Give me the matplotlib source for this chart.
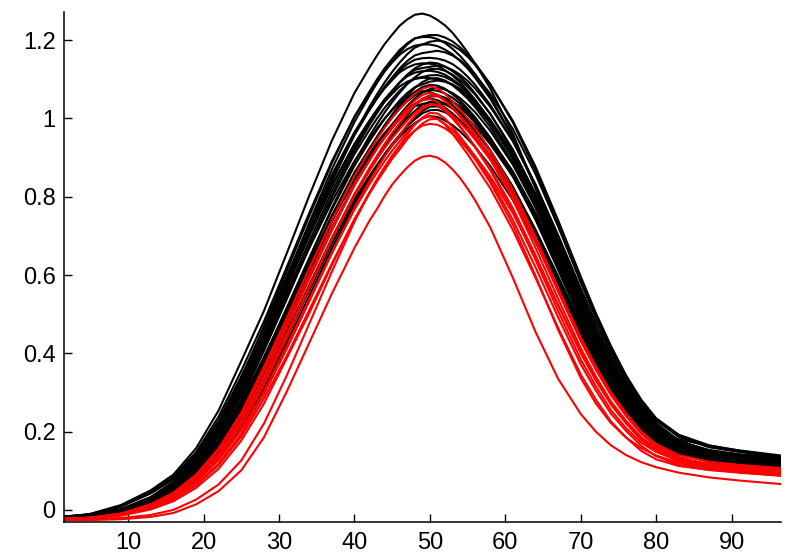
import matplotlib
matplotlib.use("Agg")
import matplotlib.pyplot as plt

# sample positions along x (shared by all curves)
x = [1.5, 5, 9, 13, 16, 19, 22, 25, 28, 31, 34, 37, 40, 42, 43, 44, 45, 46, 47, 48,
     49, 50, 51, 52, 53, 54, 55, 56, 58, 61, 64, 67, 70, 72, 74, 76, 78, 80, 83, 87, 91, 96.5]

# black curves
black_01 = [-0.020, -0.010, 0.012, 0.050, 0.090, 0.157, 0.254, 0.380, 0.508, 0.654, 0.802, 0.943, 1.065, 1.130, 1.161, 1.190, 1.214, 1.237, 1.253, 1.265, 1.268, 1.263, 1.252, 1.238, 1.219, 1.195, 1.169, 1.140, 1.077, 0.961, 0.822, 0.670, 0.520, 0.433, 0.355, 0.292, 0.241, 0.205, 0.180, 0.164, 0.152, 0.139]
black_02 = [-0.020, -0.015, -0.001, 0.029, 0.066, 0.123, 0.205, 0.316, 0.451, 0.591, 0.733, 0.870, 0.991, 1.059, 1.091, 1.120, 1.146, 1.169, 1.189, 1.204, 1.210, 1.213, 1.213, 1.207, 1.197, 1.182, 1.163, 1.141, 1.088, 0.990, 0.868, 0.728, 0.582, 0.490, 0.407, 0.335, 0.274, 0.229, 0.188, 0.162, 0.150, 0.137]
black_03 = [-0.019, -0.014, 0.001, 0.033, 0.072, 0.132, 0.218, 0.333, 0.469, 0.609, 0.750, 0.886, 1.004, 1.069, 1.100, 1.128, 1.152, 1.175, 1.192, 1.205, 1.208, 1.208, 1.203, 1.193, 1.178, 1.160, 1.138, 1.113, 1.056, 0.952, 0.824, 0.682, 0.538, 0.450, 0.372, 0.305, 0.251, 0.212, 0.175, 0.153, 0.142, 0.134]
black_04 = [-0.020, -0.016, -0.003, 0.024, 0.059, 0.111, 0.189, 0.294, 0.425, 0.563, 0.703, 0.839, 0.961, 1.030, 1.062, 1.092, 1.119, 1.143, 1.164, 1.181, 1.189, 1.196, 1.199, 1.196, 1.187, 1.175, 1.158, 1.137, 1.087, 0.994, 0.877, 0.740, 0.596, 0.503, 0.419, 0.344, 0.282, 0.234, 0.192, 0.165, 0.151, 0.137]
black_05 = [-0.018, -0.012, 0.009, 0.046, 0.085, 0.147, 0.238, 0.355, 0.481, 0.619, 0.758, 0.890, 1.004, 1.066, 1.095, 1.121, 1.143, 1.163, 1.177, 1.186, 1.189, 1.189, 1.185, 1.176, 1.164, 1.147, 1.128, 1.104, 1.051, 0.952, 0.829, 0.691, 0.549, 0.461, 0.382, 0.314, 0.257, 0.216, 0.176, 0.152, 0.141, 0.132]
black_06 = [-0.019, -0.014, -0.001, 0.028, 0.064, 0.119, 0.199, 0.306, 0.436, 0.571, 0.707, 0.840, 0.957, 1.022, 1.052, 1.081, 1.105, 1.128, 1.147, 1.161, 1.167, 1.170, 1.173, 1.169, 1.161, 1.149, 1.132, 1.112, 1.063, 0.973, 0.858, 0.724, 0.583, 0.493, 0.411, 0.337, 0.276, 0.229, 0.186, 0.160, 0.148, 0.135]
black_07 = [-0.018, -0.013, 0.001, 0.032, 0.070, 0.127, 0.210, 0.320, 0.450, 0.584, 0.718, 0.848, 0.961, 1.023, 1.052, 1.079, 1.102, 1.123, 1.139, 1.150, 1.154, 1.155, 1.153, 1.148, 1.139, 1.125, 1.107, 1.086, 1.035, 0.943, 0.827, 0.694, 0.555, 0.467, 0.388, 0.319, 0.261, 0.218, 0.176, 0.150, 0.138, 0.129]
black_08 = [-0.019, -0.015, -0.003, 0.023, 0.056, 0.106, 0.180, 0.281, 0.406, 0.537, 0.671, 0.801, 0.918, 0.984, 1.014, 1.043, 1.068, 1.092, 1.112, 1.128, 1.138, 1.143, 1.141, 1.133, 1.121, 1.106, 1.087, 1.064, 1.012, 0.917, 0.799, 0.666, 0.529, 0.444, 0.368, 0.302, 0.248, 0.208, 0.170, 0.146, 0.136, 0.127]
black_09 = [-0.018, -0.012, 0.008, 0.043, 0.080, 0.141, 0.228, 0.341, 0.464, 0.596, 0.729, 0.856, 0.965, 1.024, 1.052, 1.077, 1.098, 1.118, 1.130, 1.138, 1.141, 1.140, 1.135, 1.123, 1.110, 1.092, 1.071, 1.048, 0.994, 0.896, 0.776, 0.641, 0.505, 0.423, 0.349, 0.287, 0.236, 0.199, 0.164, 0.144, 0.134, 0.126]
black_10 = [-0.018, -0.014, -0.001, 0.027, 0.062, 0.115, 0.193, 0.296, 0.422, 0.553, 0.685, 0.813, 0.926, 0.989, 1.019, 1.046, 1.070, 1.092, 1.110, 1.124, 1.129, 1.132, 1.135, 1.132, 1.124, 1.112, 1.096, 1.077, 1.030, 0.942, 0.832, 0.702, 0.566, 0.478, 0.398, 0.327, 0.268, 0.222, 0.177, 0.149, 0.136, 0.127]
black_11 = [-0.019, -0.016, -0.005, 0.019, 0.049, 0.095, 0.164, 0.259, 0.380, 0.509, 0.641, 0.771, 0.888, 0.955, 0.986, 1.015, 1.042, 1.066, 1.088, 1.105, 1.119, 1.126, 1.127, 1.122, 1.112, 1.098, 1.081, 1.061, 1.012, 0.921, 0.808, 0.678, 0.543, 0.457, 0.380, 0.312, 0.256, 0.213, 0.172, 0.146, 0.135, 0.126]
black_12 = [-0.018, -0.013, 0.001, 0.031, 0.068, 0.124, 0.205, 0.312, 0.438, 0.568, 0.699, 0.825, 0.935, 0.995, 1.023, 1.049, 1.071, 1.092, 1.108, 1.117, 1.121, 1.122, 1.119, 1.112, 1.100, 1.085, 1.066, 1.044, 0.993, 0.900, 0.784, 0.653, 0.519, 0.436, 0.361, 0.296, 0.243, 0.204, 0.166, 0.144, 0.133, 0.125]
black_13 = [-0.018, -0.013, -0.001, 0.027, 0.061, 0.113, 0.189, 0.291, 0.415, 0.543, 0.673, 0.798, 0.909, 0.971, 1.000, 1.027, 1.050, 1.071, 1.089, 1.102, 1.106, 1.110, 1.111, 1.106, 1.096, 1.083, 1.066, 1.046, 0.997, 0.908, 0.797, 0.668, 0.535, 0.451, 0.374, 0.308, 0.252, 0.210, 0.169, 0.144, 0.133, 0.124]
black_14 = [-0.020, -0.016, -0.005, 0.015, 0.042, 0.085, 0.149, 0.238, 0.353, 0.479, 0.608, 0.736, 0.854, 0.921, 0.953, 0.983, 1.010, 1.035, 1.058, 1.078, 1.093, 1.102, 1.103, 1.097, 1.085, 1.069, 1.051, 1.029, 0.979, 0.887, 0.773, 0.644, 0.512, 0.430, 0.356, 0.292, 0.240, 0.201, 0.164, 0.142, 0.131, 0.123]
black_15 = [-0.017, -0.011, 0.008, 0.042, 0.078, 0.137, 0.220, 0.329, 0.451, 0.579, 0.707, 0.830, 0.934, 0.992, 1.018, 1.043, 1.063, 1.082, 1.094, 1.101, 1.104, 1.103, 1.100, 1.095, 1.086, 1.072, 1.056, 1.036, 0.988, 0.899, 0.789, 0.662, 0.530, 0.446, 0.371, 0.305, 0.250, 0.208, 0.168, 0.143, 0.132, 0.123]
black_16 = [-0.018, -0.014, -0.003, 0.022, 0.054, 0.102, 0.173, 0.269, 0.389, 0.515, 0.643, 0.767, 0.879, 0.942, 0.971, 0.999, 1.023, 1.046, 1.065, 1.080, 1.087, 1.094, 1.097, 1.094, 1.087, 1.076, 1.060, 1.042, 0.996, 0.912, 0.805, 0.680, 0.549, 0.463, 0.386, 0.317, 0.260, 0.215, 0.171, 0.144, 0.132, 0.123]
black_17 = [-0.019, -0.015, -0.005, 0.018, 0.047, 0.091, 0.158, 0.250, 0.367, 0.492, 0.619, 0.744, 0.858, 0.922, 0.953, 0.981, 1.007, 1.030, 1.051, 1.068, 1.080, 1.086, 1.084, 1.076, 1.062, 1.045, 1.025, 1.003, 0.951, 0.857, 0.742, 0.613, 0.483, 0.404, 0.334, 0.274, 0.225, 0.190, 0.157, 0.137, 0.128, 0.121]
black_18 = [-0.019, -0.016, -0.005, 0.015, 0.041, 0.083, 0.145, 0.232, 0.343, 0.466, 0.592, 0.717, 0.832, 0.898, 0.929, 0.958, 0.985, 1.009, 1.032, 1.051, 1.066, 1.075, 1.079, 1.074, 1.065, 1.052, 1.035, 1.016, 0.969, 0.882, 0.774, 0.650, 0.520, 0.438, 0.364, 0.299, 0.245, 0.204, 0.165, 0.140, 0.129, 0.121]
black_19 = [-0.018, -0.014, -0.003, 0.022, 0.053, 0.100, 0.169, 0.264, 0.381, 0.504, 0.630, 0.752, 0.862, 0.923, 0.952, 0.979, 1.003, 1.025, 1.044, 1.059, 1.069, 1.073, 1.071, 1.064, 1.053, 1.038, 1.020, 0.999, 0.950, 0.861, 0.750, 0.625, 0.497, 0.417, 0.345, 0.284, 0.233, 0.195, 0.159, 0.137, 0.127, 0.119]
black_20 = [-0.017, -0.012, 0.001, 0.030, 0.066, 0.119, 0.196, 0.298, 0.419, 0.543, 0.668, 0.787, 0.891, 0.949, 0.975, 1.000, 1.021, 1.041, 1.056, 1.066, 1.070, 1.068, 1.060, 1.049, 1.034, 1.016, 0.995, 0.971, 0.919, 0.823, 0.707, 0.579, 0.452, 0.377, 0.310, 0.254, 0.210, 0.178, 0.148, 0.128, 0.118, 0.111]
black_21 = [-0.019, -0.016, -0.007, 0.011, 0.036, 0.074, 0.132, 0.213, 0.317, 0.438, 0.562, 0.686, 0.802, 0.869, 0.901, 0.930, 0.958, 0.983, 1.008, 1.032, 1.050, 1.059, 1.060, 1.053, 1.042, 1.027, 1.010, 0.989, 0.941, 0.852, 0.743, 0.619, 0.492, 0.413, 0.342, 0.281, 0.231, 0.193, 0.158, 0.136, 0.126, 0.118]
black_22 = [-0.018, -0.015, -0.005, 0.018, 0.045, 0.088, 0.153, 0.242, 0.355, 0.476, 0.600, 0.721, 0.832, 0.894, 0.924, 0.951, 0.976, 0.999, 1.020, 1.036, 1.049, 1.056, 1.057, 1.052, 1.043, 1.031, 1.015, 0.995, 0.949, 0.865, 0.759, 0.637, 0.510, 0.430, 0.357, 0.293, 0.240, 0.200, 0.161, 0.137, 0.126, 0.118]
black_23 = [-0.018, -0.014, -0.003, 0.022, 0.052, 0.098, 0.166, 0.258, 0.373, 0.494, 0.617, 0.737, 0.844, 0.905, 0.933, 0.959, 0.983, 1.004, 1.023, 1.037, 1.049, 1.051, 1.047, 1.038, 1.025, 1.008, 0.989, 0.967, 0.918, 0.826, 0.715, 0.591, 0.466, 0.390, 0.321, 0.264, 0.217, 0.183, 0.152, 0.133, 0.124, 0.117]
black_24 = [-0.019, -0.016, -0.005, 0.015, 0.040, 0.081, 0.141, 0.225, 0.332, 0.451, 0.573, 0.694, 0.806, 0.870, 0.900, 0.929, 0.955, 0.978, 1.001, 1.019, 1.035, 1.043, 1.040, 1.028, 1.013, 0.995, 0.974, 0.951, 0.899, 0.805, 0.691, 0.566, 0.442, 0.368, 0.303, 0.249, 0.205, 0.174, 0.145, 0.125, 0.116, 0.109]
black_25 = [-0.017, -0.013, -0.001, 0.025, 0.058, 0.107, 0.178, 0.274, 0.390, 0.510, 0.631, 0.749, 0.853, 0.911, 0.938, 0.963, 0.984, 1.005, 1.021, 1.031, 1.037, 1.040, 1.041, 1.036, 1.028, 1.015, 0.999, 0.980, 0.935, 0.852, 0.748, 0.628, 0.503, 0.423, 0.352, 0.289, 0.237, 0.197, 0.159, 0.135, 0.125, 0.116]
black_26 = [-0.018, -0.015, -0.007, 0.011, 0.036, 0.072, 0.129, 0.207, 0.308, 0.425, 0.546, 0.667, 0.780, 0.846, 0.877, 0.906, 0.933, 0.957, 0.982, 1.002, 1.019, 1.030, 1.031, 1.022, 1.009, 0.993, 0.974, 0.952, 0.903, 0.813, 0.704, 0.581, 0.458, 0.383, 0.316, 0.260, 0.214, 0.180, 0.148, 0.126, 0.116, 0.109]
black_27 = [-0.018, -0.015, -0.005, 0.014, 0.039, 0.079, 0.138, 0.220, 0.324, 0.441, 0.560, 0.679, 0.789, 0.852, 0.881, 0.909, 0.935, 0.958, 0.980, 0.998, 1.013, 1.021, 1.022, 1.016, 1.005, 0.991, 0.974, 0.954, 0.907, 0.822, 0.716, 0.597, 0.474, 0.398, 0.330, 0.271, 0.222, 0.186, 0.152, 0.131, 0.122, 0.114]
black_28 = [-0.017, -0.014, -0.005, 0.017, 0.043, 0.084, 0.145, 0.230, 0.338, 0.454, 0.571, 0.687, 0.793, 0.853, 0.881, 0.907, 0.931, 0.953, 0.972, 0.988, 1.000, 1.006, 1.004, 0.995, 0.983, 0.967, 0.948, 0.927, 0.879, 0.792, 0.685, 0.566, 0.446, 0.373, 0.307, 0.253, 0.208, 0.175, 0.144, 0.122, 0.113, 0.107]

# red curves
red_01 = [-0.024, -0.020, -0.010, 0.014, 0.044, 0.090, 0.157, 0.248, 0.365, 0.489, 0.616, 0.740, 0.853, 0.918, 0.948, 0.976, 1.002, 1.025, 1.046, 1.063, 1.076, 1.082, 1.077, 1.063, 1.044, 1.023, 1.000, 0.975, 0.919, 0.818, 0.698, 0.567, 0.439, 0.364, 0.298, 0.244, 0.200, 0.168, 0.140, 0.123, 0.115, 0.107]
red_02 = [-0.024, -0.021, -0.010, 0.011, 0.038, 0.082, 0.144, 0.231, 0.341, 0.464, 0.589, 0.713, 0.828, 0.893, 0.924, 0.953, 0.980, 1.004, 1.027, 1.046, 1.060, 1.066, 1.061, 1.046, 1.027, 1.004, 0.980, 0.953, 0.896, 0.793, 0.670, 0.539, 0.413, 0.341, 0.277, 0.228, 0.186, 0.157, 0.132, 0.117, 0.110, 0.102]
red_03 = [-0.024, -0.021, -0.012, 0.007, 0.034, 0.073, 0.133, 0.214, 0.319, 0.440, 0.565, 0.690, 0.806, 0.874, 0.905, 0.935, 0.963, 0.988, 1.013, 1.034, 1.050, 1.058, 1.058, 1.045, 1.028, 1.007, 0.985, 0.960, 0.905, 0.805, 0.687, 0.557, 0.431, 0.358, 0.293, 0.240, 0.195, 0.162, 0.133, 0.115, 0.106, 0.097]
red_04 = [-0.023, -0.020, -0.010, 0.014, 0.042, 0.087, 0.153, 0.242, 0.355, 0.476, 0.600, 0.721, 0.832, 0.894, 0.924, 0.951, 0.976, 0.999, 1.020, 1.036, 1.046, 1.050, 1.042, 1.025, 1.004, 0.980, 0.955, 0.926, 0.868, 0.763, 0.639, 0.508, 0.384, 0.316, 0.255, 0.209, 0.172, 0.148, 0.128, 0.117, 0.111, 0.105]
red_05 = [-0.023, -0.021, -0.013, 0.004, 0.027, 0.064, 0.118, 0.194, 0.295, 0.410, 0.532, 0.655, 0.772, 0.840, 0.872, 0.903, 0.932, 0.957, 0.984, 1.006, 1.024, 1.036, 1.034, 1.019, 1.000, 0.978, 0.954, 0.928, 0.872, 0.771, 0.651, 0.523, 0.400, 0.330, 0.269, 0.221, 0.179, 0.149, 0.124, 0.108, 0.100, 0.092]
red_06 = [-0.023, -0.021, -0.010, 0.010, 0.037, 0.079, 0.140, 0.224, 0.330, 0.448, 0.570, 0.691, 0.802, 0.866, 0.896, 0.924, 0.950, 0.973, 0.995, 1.014, 1.029, 1.037, 1.033, 1.023, 1.008, 0.990, 0.969, 0.946, 0.895, 0.801, 0.688, 0.563, 0.440, 0.366, 0.301, 0.247, 0.200, 0.166, 0.135, 0.115, 0.105, 0.097]
red_07 = [-0.023, -0.021, -0.015, 0.001, 0.022, 0.056, 0.105, 0.177, 0.271, 0.386, 0.502, 0.625, 0.742, 0.811, 0.844, 0.875, 0.905, 0.931, 0.959, 0.984, 1.002, 1.014, 1.013, 1.000, 0.978, 0.954, 0.929, 0.901, 0.845, 0.741, 0.620, 0.492, 0.372, 0.305, 0.246, 0.202, 0.164, 0.137, 0.115, 0.102, 0.095, 0.087]
red_08 = [-0.023, -0.020, -0.012, 0.006, 0.032, 0.070, 0.127, 0.204, 0.302, 0.418, 0.537, 0.656, 0.767, 0.832, 0.862, 0.891, 0.918, 0.942, 0.966, 0.986, 1.000, 1.006, 0.999, 0.985, 0.961, 0.935, 0.909, 0.880, 0.822, 0.715, 0.593, 0.465, 0.346, 0.282, 0.226, 0.185, 0.151, 0.129, 0.112, 0.102, 0.097, 0.090]
red_09 = [-0.023, -0.020, -0.013, 0.004, 0.026, 0.062, 0.114, 0.187, 0.284, 0.392, 0.510, 0.629, 0.742, 0.808, 0.839, 0.868, 0.897, 0.921, 0.947, 0.969, 0.987, 0.998, 0.999, 0.986, 0.970, 0.950, 0.928, 0.904, 0.852, 0.758, 0.645, 0.523, 0.404, 0.335, 0.273, 0.225, 0.183, 0.153, 0.127, 0.111, 0.103, 0.096]
red_10 = [-0.022, -0.022, -0.021, -0.013, 0.000, 0.026, 0.065, 0.126, 0.220, 0.342, 0.475, 0.608, 0.736, 0.811, 0.844, 0.875, 0.904, 0.929, 0.952, 0.969, 0.982, 0.986, 0.984, 0.975, 0.961, 0.943, 0.921, 0.896, 0.837, 0.729, 0.598, 0.460, 0.337, 0.272, 0.222, 0.185, 0.158, 0.139, 0.120, 0.105, 0.096, 0.088]
red_11 = [-0.026, -0.026, -0.024, -0.018, -0.008, 0.014, 0.048, 0.101, 0.185, 0.301, 0.426, 0.552, 0.669, 0.739, 0.769, 0.802, 0.831, 0.854, 0.875, 0.892, 0.902, 0.905, 0.900, 0.888, 0.870, 0.848, 0.821, 0.791, 0.722, 0.593, 0.455, 0.335, 0.245, 0.200, 0.165, 0.140, 0.122, 0.109, 0.095, 0.083, 0.075, 0.066]

x_ticks = [10, 20, 30, 40, 50, 60, 70, 80, 90]
x_tick_labels = ["10", "20", "30", "40", "50", "60", "70", "80", "90"]
y_ticks = [0, 0.2, 0.4, 0.6, 0.8, 1.0, 1.2]
y_tick_labels = ["0", "0.2", "0.4", "0.6", "0.8", "1", "1.2"]

black_curves = [black_01, black_02, black_03, black_04, black_05, black_06, black_07,
                black_08, black_09, black_10, black_11, black_12, black_13, black_14,
                black_15, black_16, black_17, black_18, black_19, black_20, black_21,
                black_22, black_23, black_24, black_25, black_26, black_27, black_28]
red_curves = [red_01, red_02, red_03, red_04, red_05, red_06, red_07, red_08, red_09,
              red_10, red_11]

plt.rcParams['font.family'] = ['Liberation Sans', 'DejaVu Sans']

fig = plt.figure(figsize=(7.86, 5.59), dpi=100)
ax = fig.add_axes([0.0814, 0.0662, 0.9118, 0.9123])

for c in black_curves:
    ax.plot(x, c, color='black', lw=1.5, solid_joinstyle='round')
for c in red_curves:
    ax.plot(x, c, color='#ff0000', lw=1.5, solid_joinstyle='round')

ax.set_xlim(1.5, 96.5)
ax.set_ylim(-0.031, 1.272)
ax.set_xticks(x_ticks)
ax.set_xticklabels(x_tick_labels)
ax.set_yticks(y_ticks)
ax.set_yticklabels(y_tick_labels)

for s in ['top', 'right']:
    ax.spines[s].set_visible(False)
for s in ['left', 'bottom']:
    ax.spines[s].set_linewidth(1.1)

ax.tick_params(axis='both', direction='in', length=5.5, width=1.0, labelsize=17)
ax.tick_params(axis='x', pad=7)
ax.tick_params(axis='y', pad=6)

fig.savefig('out.png', dpi=100)
